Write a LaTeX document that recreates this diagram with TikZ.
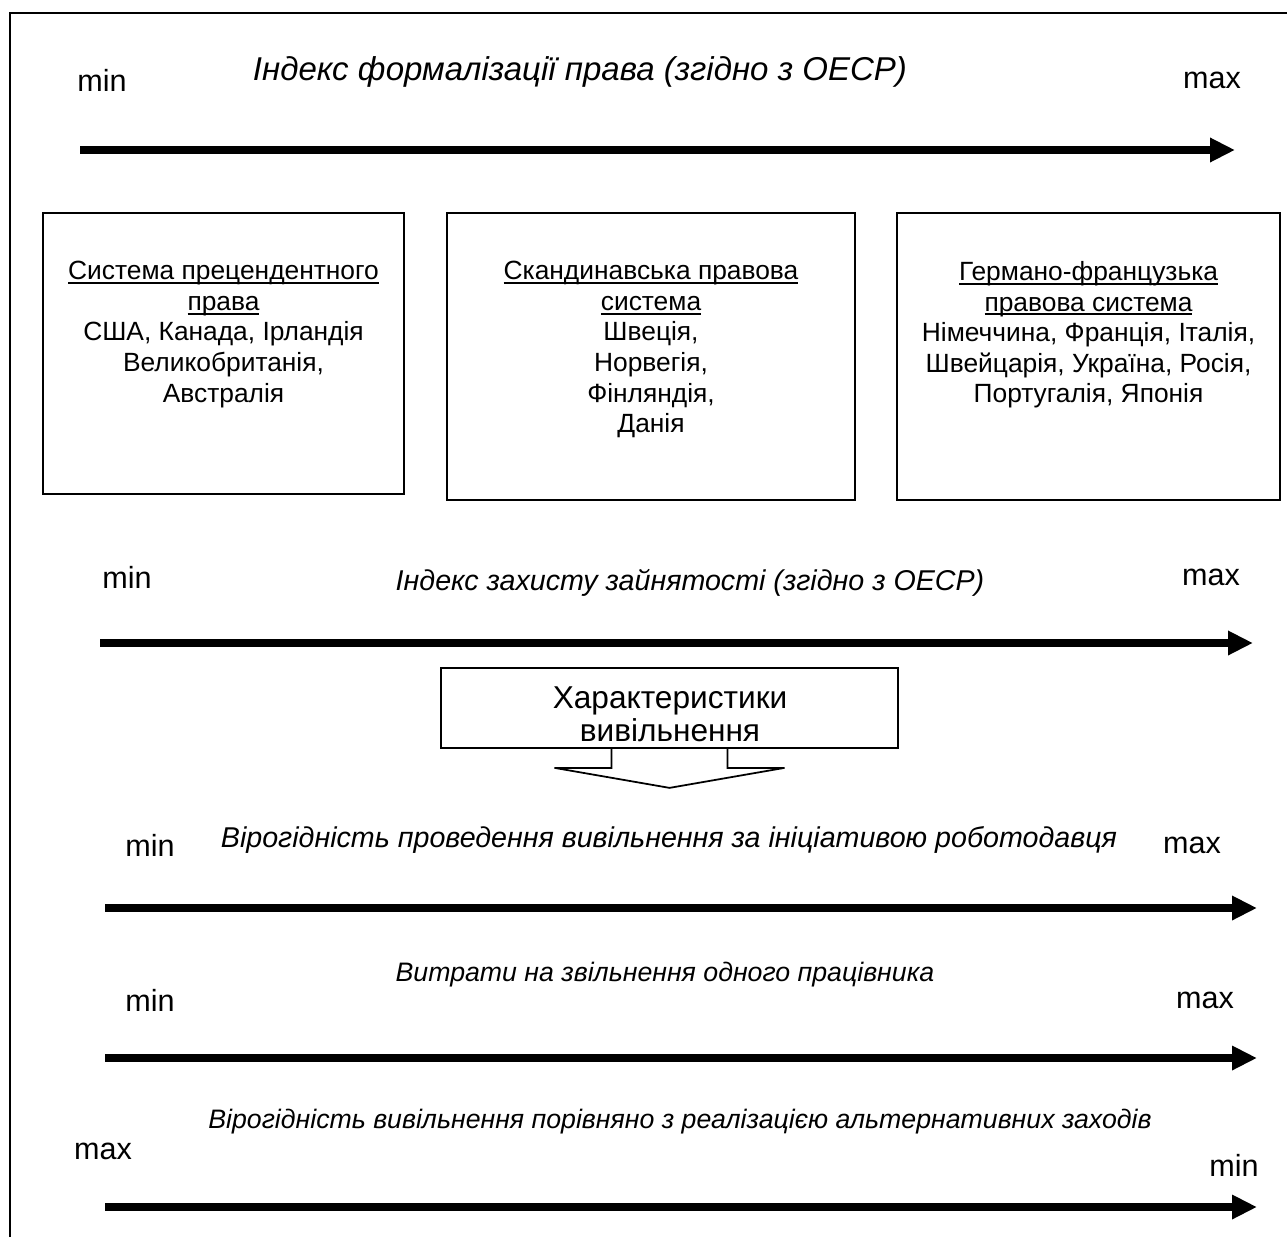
\documentclass[tikz,border=0pt]{standalone}
\usepackage{fontspec}
\setmainfont{Liberation Sans}
\usetikzlibrary{arrows.meta,positioning}
\newcommand{\sysul}[1]{\setbox0\hbox{#1}\rlap{\rule[-0.16em]{\wd0}{0.07em}}\box0}

\begin{document}
\begin{tikzpicture}[x=0.02cm, y=-0.02cm]
    \tikzstyle{axis}=[line width=4.5pt, -{Triangle[length=0.5cm, width=0.46cm]}]
    \tikzstyle{bound}=[inner sep=0pt, font=\fontsize{17.4}{20}\selectfont]
    \tikzstyle{axtitle}=[inner sep=0pt, font=\fontsize{15.2}{18}\selectfont\itshape]
    \tikzstyle{sysbox}=[draw, line width=1pt, rectangle, inner sep=0pt]
    \tikzstyle{systext}=[inner sep=0pt, align=center, anchor=north, font=\fontsize{15}{17.4}\selectfont]

    \useasboundingbox (0,0) rectangle (1287,1237);
    \draw[line width=0.8pt] (10,1237) -- (10,13) -- (1287,13);

% scale arrows
    \foreach \n/\y/\xa/\xb in {formal/150/80/1235, protect/643/100/1253, prob/908/105/1257, cost/1058/105/1257, alt/1207/105/1257}
    {
        \coordinate (\n s) at (\xa,\y);
        \coordinate (\n e) at (\xb,\y);
        \draw[axis] (\n s) -- (\n e);
    }

% row 1
    \node[axtitle, font=\fontsize{18.8}{21}\selectfont\itshape] (formalTitle) at (580,72) {Індекс формалізації права (згідно з ОЕСР)};
    \node[bound] (formalMin) at (102,80) {min};
    \node[bound] (formalMax) at (1212,80) {max};

% legal systems
    \node[sysbox, minimum width=7.22cm, minimum height=5.62cm] (prec) at (223.5,353.5) {};
    \node[sysbox, minimum width=8.16cm, minimum height=5.74cm] (scand) at (651,356.5) {};
    \node[sysbox, minimum width=7.66cm, minimum height=5.74cm] (germ) at (1088.5,356.5) {};
    \node[systext] (precText) at (223.5,261) {\sysul{Система прецендентного}\\\sysul{права}\\США, Канада, Ірландія\\Великобританія,\\Австралія};
    \node[systext] (scandText) at (651,261) {\sysul{Скандинавська правова}\\\sysul{система}\\Швеція,\\Норвегія,\\Фінляндія,\\Данія};
    \node[systext] (germText) at (1088.5,261) {\sysul{Германо-французька}\\\sysul{правова система}\\Німеччина, Франція, Італія,\\Швейцарія, Україна, Росія,\\Португалія, Японія};

% row 2
    \node[bound] (protectMin) at (127,577) {min};
    \node[bound] (protectMax) at (1211,577) {max};
    \node[axtitle, font=\fontsize{16.3}{19}\selectfont\itshape] (protectTitle) at (690,583) {Індекс захисту зайнятості (згідно з ОЕСР)};

% callout
    \node[sysbox, minimum width=9.14cm, minimum height=1.6cm] (charBox) at (669.5,708) {};
    \node[inner sep=0pt, align=center, font=\fontsize{18}{19}\selectfont] (charText) at (670,714) {Характеристики\\вивільнення};
    \draw[line width=1pt] ([xshift=-1.16cm]charBox.south) -- ++(0,19) -- ++(-57,0) -- ++(115,20) -- ++(115,-20) -- ++(-57,0) -- ++(0,-19);

% row 3
    \node[axtitle, font=\fontsize{16.3}{19}\selectfont\itshape] (probTitle) at (669,840) {Вірогідність проведення вивільнення за ініціативою роботодавця};
    \node[bound] (probMin) at (150,845) {min};
    \node[bound] (probMax) at (1192,845) {max};

% row 4
    \node[axtitle] (costTitle) at (665,975) {Витрати на звільнення одного працівника};
    \node[bound] (costMin) at (150,1000) {min};
    \node[bound] (costMax) at (1205,1000) {max};

% row 5
    \node[axtitle] (altTitle) at (680,1122) {Вірогідність вивільнення порівняно з реалізацією альтернативних заходів};
    \node[bound] (altMax) at (103,1151) {max};
    \node[bound] (altMin) at (1234,1165) {min};

\end{tikzpicture}
\end{document}
